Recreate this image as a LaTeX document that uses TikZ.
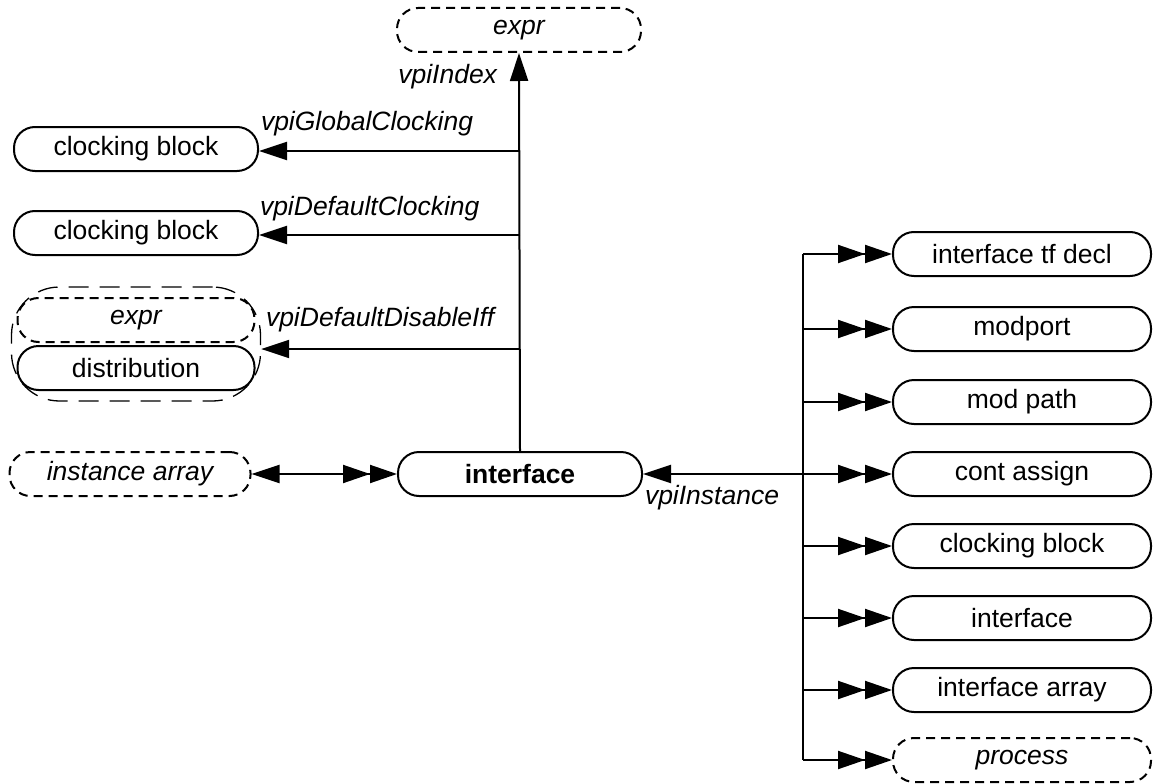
\documentclass[tikz,border=0pt]{standalone}
\usepackage{fontspec}
\setmainfont{Liberation Sans}
\usetikzlibrary{arrows.meta,fit}
\begin{document}
\begin{tikzpicture}[x=1pt,y=-1pt,
  font=\fontsize{26.5}{31}\selectfont,
  line width=2pt,
  box/.style={draw, rounded corners=21pt, minimum width=244pt, minimum height=44pt, inner sep=0pt},
  dbox/.style={box, dash pattern=on 9pt off 6pt},
  rbox/.style={box, minimum width=258pt},
  lbl/.style={font=\fontsize{26.5}{31}\selectfont\itshape, inner sep=0pt},
  sgl/.style={-{Triangle[length=28pt,width=18pt]}},
  dbl/.style={-{Triangle[length=27pt,width=18pt]Triangle[length=27pt,width=18pt]}},
  bid/.style={{Triangle[length=28pt,width=18pt]}-{Triangle[length=27pt,width=18pt]Triangle[length=27pt,width=18pt]}}]
\useasboundingbox (0,0) rectangle (1154,784);

% central
\node[box] (ifc) at (520,474) {\bfseries interface};
\node[dbox] (expr) at (519,30) {\itshape expr};
\node[box] (cb1) at (136,149) {clocking block};
\node[box] (cb2) at (136,233) {clocking block};
\node[dbox, minimum width=237pt] (gexpr) at (136,320) {\itshape expr};
\node[box, minimum width=237pt] (dist) at (136,368) {distribution};
\node[draw, dash pattern=on 20pt off 11pt, line width=1.3pt, rounded corners=48pt, fit=(gexpr)(dist), inner xsep=5pt, inner ysep=10pt] (grp) {};
\node[dbox, minimum width=241pt] (ia) at (130,474) {\itshape instance array};

% right column
\node[rbox] (r1) at (1022,254) {interface tf decl};
\node[rbox] (r2) at (1022,329) {modport};
\node[rbox] (r3) at (1022,402) {mod path};
\node[rbox] (r4) at (1022,474) {cont assign};
\node[rbox] (r5) at (1022,546) {clocking block};
\node[rbox] (r6) at (1022,618) {interface};
\node[rbox] (r7) at (1022,690) {interface array};
\node[dbox, minimum width=258pt] (r8) at (1022,760) {\itshape process};

% vertical spine above interface
\draw[sgl] (ifc.north) -- (expr.south);
\node[lbl, anchor=east] (lidx) at (498,77) {vpiIndex};

\draw[sgl] (ifc.north |- 0,151) -- (cb1.east |- 0,151);
\node[lbl, anchor=west] (lgc) at (260,124) {vpiGlobalClocking};
\draw[sgl] (ifc.north |- 0,235) -- (cb2.east |- 0,235);
\node[lbl, anchor=west] (ldc) at (259,209) {vpiDefaultClocking};
\coordinate (gin) at (grp.east |- 0,349);
\draw[sgl] (ifc.north |- gin) -- (gin);
\node[lbl, anchor=west] (ldd) at (265,320) {vpiDefaultDisableIff};

% instance array
\draw[bid] (ia.east) -- (ifc.west);

% trunk
\coordinate (tr) at (803,474);
\draw (tr |- r1.west) -- (tr |- r8.west);
\draw[sgl] (tr) -- (ifc.east);
\node[lbl, anchor=west] (lin) at (644,498) {vpiInstance};
\foreach \r in {r1,r2,r3,r4,r5,r6,r7,r8}
  \draw[dbl] (tr |- \r.west) -- (\r.west);
\end{tikzpicture}
\end{document}
